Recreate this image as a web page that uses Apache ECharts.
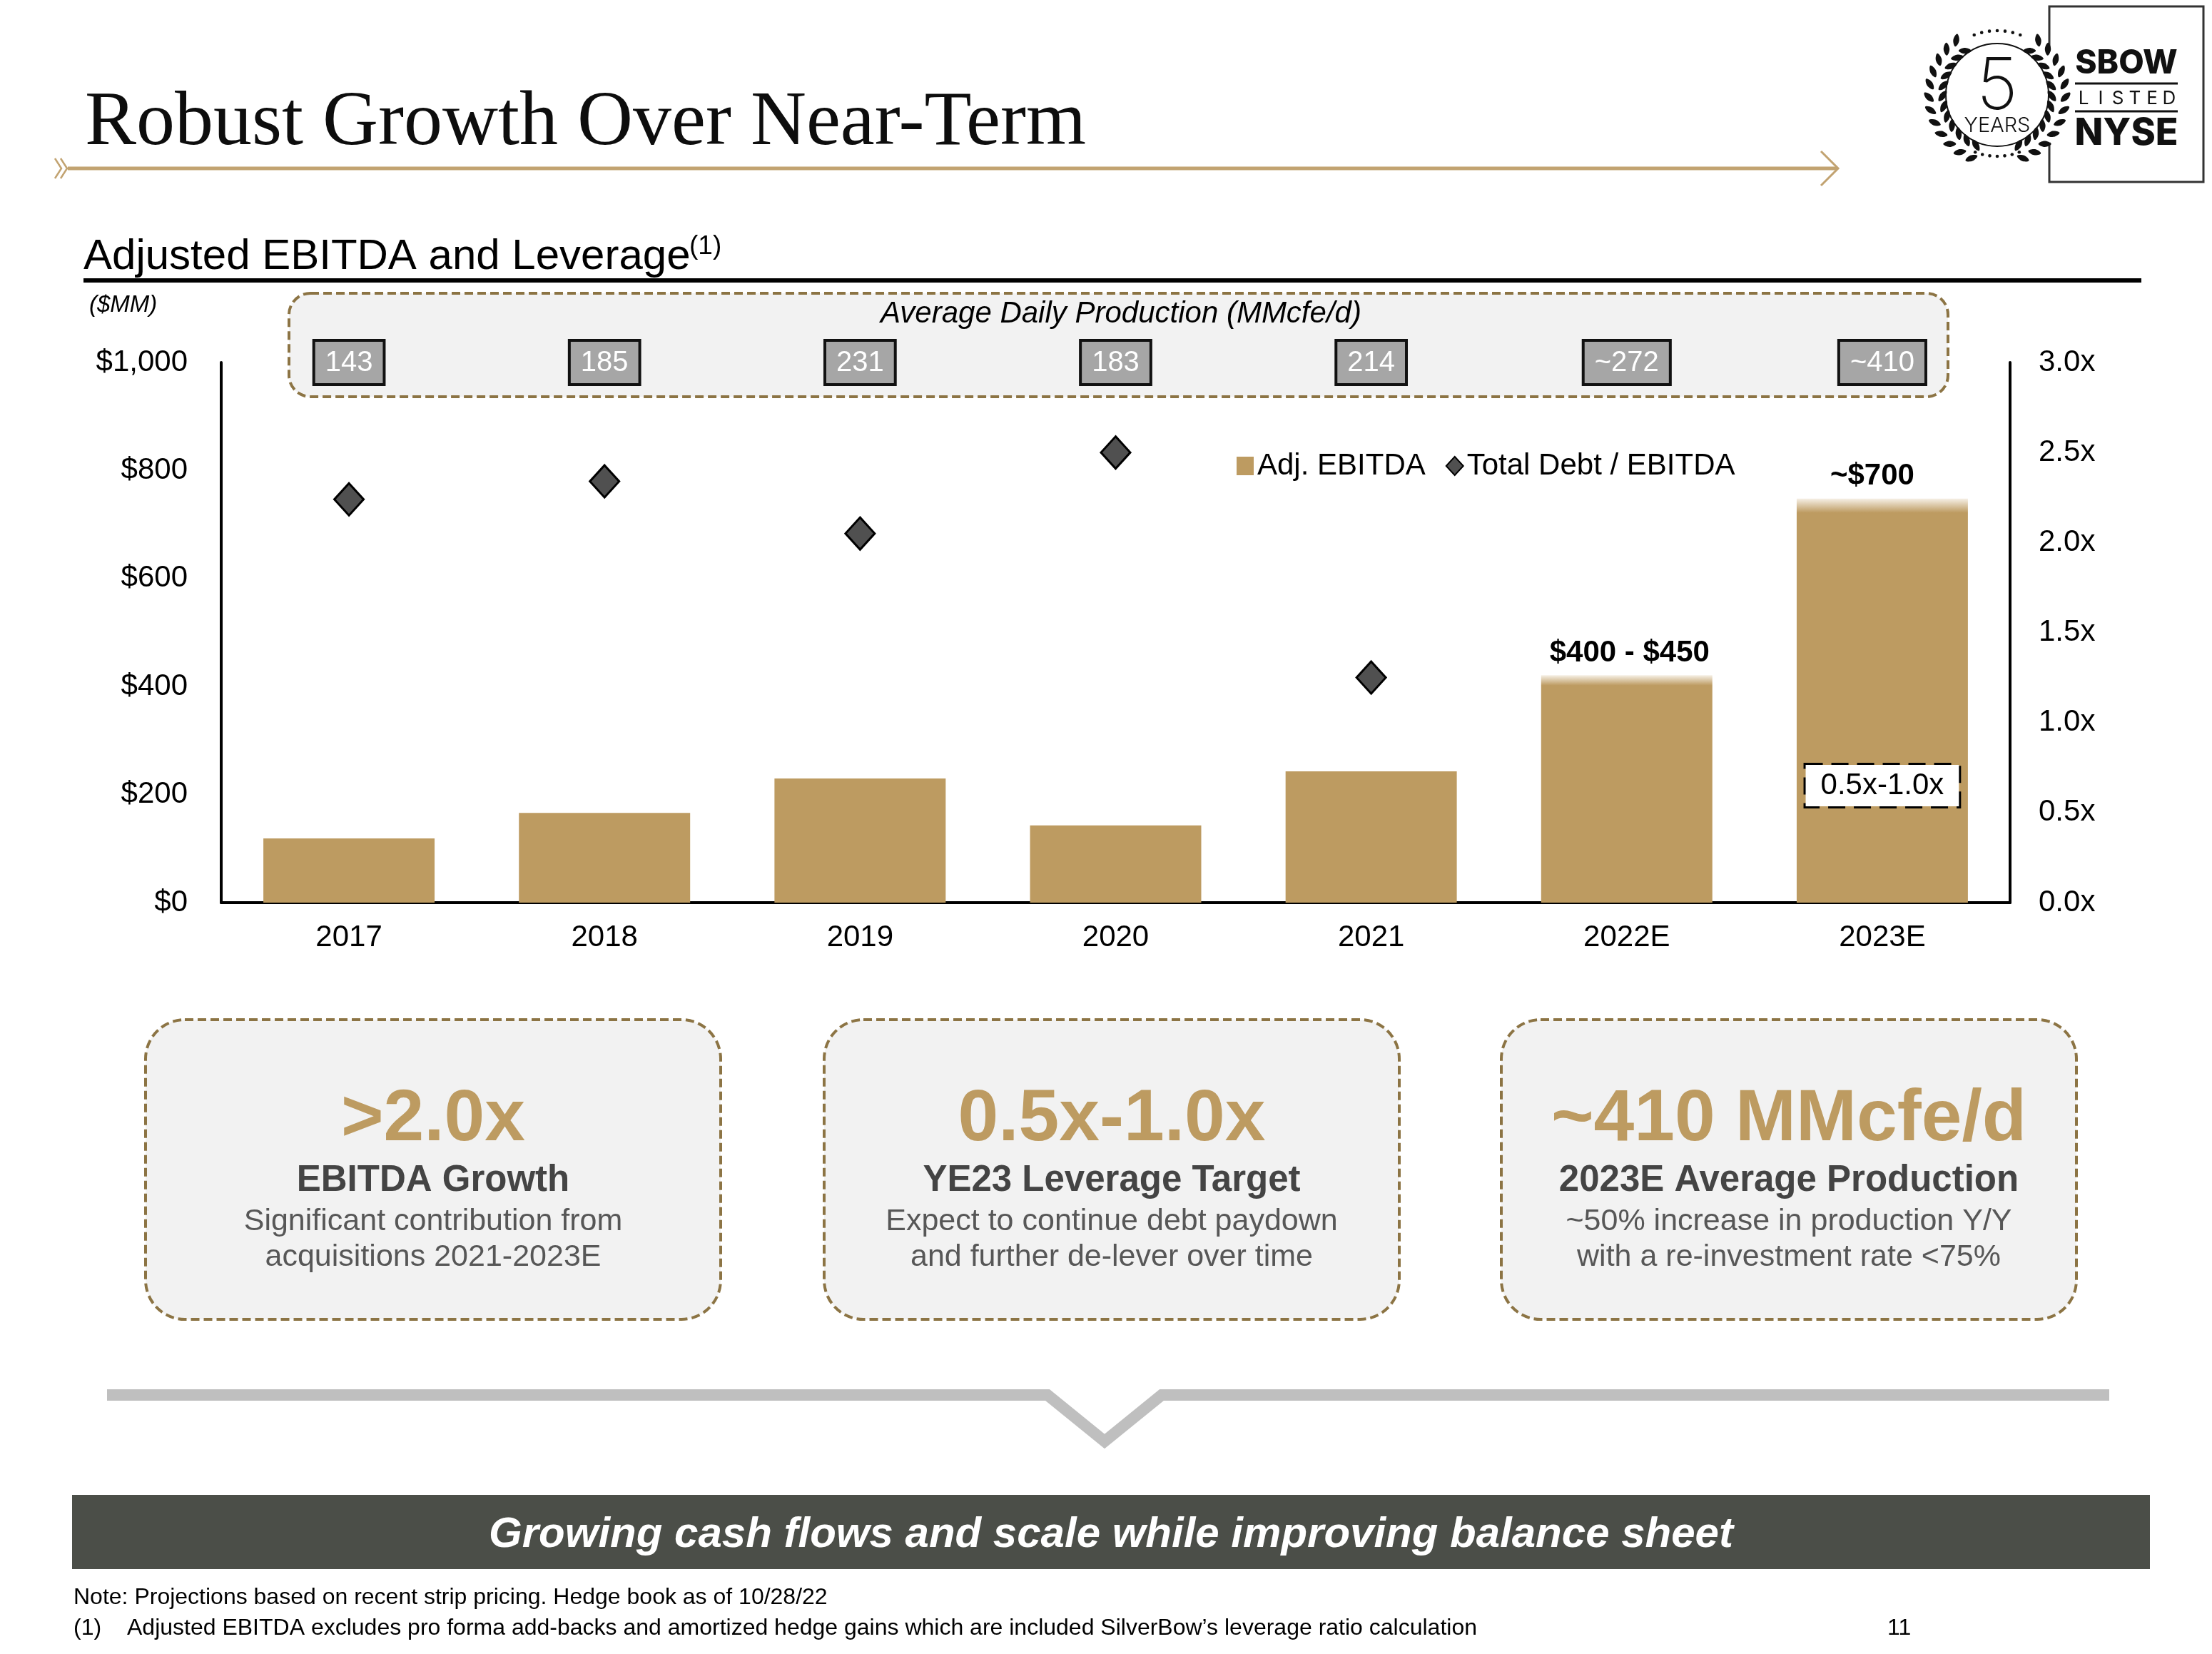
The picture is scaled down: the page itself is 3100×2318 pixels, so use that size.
<!DOCTYPE html>
<html><head><meta charset="utf-8">
<script src="https://cdn.jsdelivr.net/npm/echarts@6/dist/echarts.min.js"></script>
<style>html,body{margin:0;padding:0;background:#fff}#c{width:3100px;height:2318px}</style>
</head><body><div id="c"></div>
<script>
// ---------- data ----------
const categories = ['2017', '2018', '2019', '2020', '2021', '2022E', '2023E'];
const adjEbitda = [119, 166, 230, 143, 243, 421, 748];
const debtToEbitda = [2.24, 2.34, 2.05, 2.50, 1.25, null, null];
const avgProduction = ['143', '185', '231', '183', '214', '~272', '~410'];
const ebitdaLabels = ['', '', '', '', '', '$400 - $450', '~$700'];
const leverageTarget = [null, null, null, null, null, null, 0.65];
const leverageTargetLabel = '0.5x-1.0x';
const leftTickLabels = ['$0', '$200', '$400', '$600', '$800', '$1,000'];
const rightTickLabels = ['0.0x', '0.5x', '1.0x', '1.5x', '2.0x', '2.5x', '3.0x'];
const calloutBig = ['>2.0x', '0.5x-1.0x', '~410 MMcfe/d'];
const calloutHead = ['EBITDA Growth', 'YE23 Leverage Target', '2023E Average Production'];
const calloutDesc = [
  ['Significant contribution from', 'acquisitions 2021-2023E'],
  ['Expect to continue debt paydown', 'and further de-lever over time'],
  ['~50% increase in production Y/Y', 'with a re-investment rate <75%']
];

// ---------- style ----------
const F = '"Liberation Sans", Arial, sans-serif';
const GOLD = '#bd9b61';
const BORDER_GOLD = '#8c7444';

function txt(x, y, text, size, opts) {
  opts = opts || {};
  return {
    type: 'text', x: x, y: y, z: 10,
    style: {
      text: text, fontSize: size, fontFamily: opts.family || F,
      fontWeight: opts.weight || 'normal', fontStyle: opts.style || 'normal',
      fill: opts.fill || '#000', align: opts.align || 'left', verticalAlign: 'middle'
    }
  };
}

const g = [];
// title
g.push(txt(119, 174, 'Robust Growth Over Near-Term', 108, {family: '"Liberation Serif", "Times New Roman", serif', fill: '#0d0d0d'}));
// gold arrow line
g.push({type: 'line', shape: {x1: 95, y1: 236, x2: 2574, y2: 236}, style: {stroke: '#c2a371', lineWidth: 5}});
g.push({type: 'polyline', shape: {points: [[77, 222], [86, 236], [77, 250]]}, style: {stroke: '#c2a371', lineWidth: 2.5, fill: null}});
g.push({type: 'polyline', shape: {points: [[85, 222], [94, 236], [85, 250]]}, style: {stroke: '#c2a371', lineWidth: 2.5, fill: null}});
g.push({type: 'polyline', shape: {points: [[2552, 212], [2576, 236], [2552, 260]]}, style: {stroke: '#c2a371', lineWidth: 3, fill: null}});
// subtitle
g.push(txt(117, 360, 'Adjusted EBITDA and Leverage', 60));
g.push(txt(966, 346, '(1)', 37));
g.push({type: 'line', shape: {x1: 117, y1: 393, x2: 3001, y2: 393}, style: {stroke: '#000', lineWidth: 6}});
g.push(txt(125, 428, '($MM)', 33, {style: 'italic'}));
// production band
g.push({type: 'rect', z: 0, shape: {x: 405, y: 411, width: 2325, height: 145, r: 30},
  style: {fill: '#f2f2f2', stroke: BORDER_GOLD, lineWidth: 4, lineDash: [12, 6]}});
g.push(txt(1571, 440, 'Average Daily Production (MMcfe/d)', 42, {style: 'italic', align: 'center'}));

// callout boxes
const boxX = [204, 1155, 2104];
for (let i = 0; i < 3; i++) {
  const cx = boxX[i] + 403;
  g.push({type: 'rect', shape: {x: boxX[i], y: 1429, width: 806, height: 420, r: 55},
    style: {fill: '#f2f2f2', stroke: BORDER_GOLD, lineWidth: 4, lineDash: [12, 6]}});
  g.push(txt(cx, 1570, calloutBig[i], 102, {weight: 'bold', fill: GOLD, align: 'center'}));
  g.push(txt(cx, 1655, calloutHead[i], 51, {weight: 'bold', fill: '#444444', align: 'center'}));
  g.push(txt(cx, 1712, calloutDesc[i][0], 43, {fill: '#575757', align: 'center'}));
  g.push(txt(cx, 1762, calloutDesc[i][1], 43, {fill: '#575757', align: 'center'}));
}
// grey chevron divider
g.push({type: 'polyline', shape: {points: [[150, 1955], [1468, 1955], [1548, 2020], [1628, 1955], [2956, 1955]]},
  style: {stroke: '#bfbfbf', lineWidth: 16, fill: null, lineJoin: 'miter'}});
// banner
g.push({type: 'rect', shape: {x: 101, y: 2095, width: 2912, height: 104}, style: {fill: '#4b4e48'}});
g.push(txt(1557, 2151, 'Growing cash flows and scale while improving balance sheet', 60, {weight: 'bold', style: 'italic', fill: '#fff', align: 'center'}));
// footnotes
g.push(txt(103, 2239, 'Note: Projections based on recent strip pricing. Hedge book as of 10/28/22', 32));
g.push(txt(103, 2282, '(1)', 32));
g.push(txt(178, 2282, 'Adjusted EBITDA excludes pro forma add-backs and amortized hedge gains which are included SilverBow\u2019s leverage ratio calculation', 32));
g.push(txt(2645, 2282, '11', 32));

// logo
const LX = 2799, LY = 133;
g.push({type: 'rect', shape: {x: 2872, y: 9, width: 216, height: 246}, style: {fill: '#fff', stroke: '#333', lineWidth: 3}});
g.push({type: 'circle', shape: {cx: LX, cy: LY, r: 100}, style: {fill: '#fff'}});
g.push({type: 'circle', shape: {cx: LX, cy: LY, r: 72}, style: {fill: null, stroke: '#111', lineWidth: 2}});
g.push(txt(LX, 123, '5', 100, {family: 'Inter, "Noto Sans", sans-serif', weight: 200, fill: '#111', align: 'center'}));
g.push(txt(LX, 176, 'YEARS', 29, {family: 'Inter, "Noto Sans", sans-serif', weight: 300, fill: '#111', align: 'center'}));
for (const s of [1, -1]) {
  for (let k = 0; k < 12; k++) {
    const th = (40 + k * 11) * Math.PI / 180;
    const R = 86;
    const px = LX + s * R * Math.sin(th), py = LY - R * Math.cos(th);
    const tx = -s * Math.cos(th), ty = -Math.sin(th);
    const nx = s * Math.sin(th), ny = -Math.cos(th);
    for (const side of [1, -1]) {
      let dx = tx * 0.75 + side * nx * 0.66, dy = ty * 0.75 + side * ny * 0.66;
      const dl = Math.hypot(dx, dy); dx /= dl; dy /= dl;
      const ox = px + side * nx * 5 + dx * 7, oy = py + side * ny * 5 + dy * 7;
      const L = 9, W = 4.2, mx = -dy, my = dx;
      g.push({type: 'polygon', shape: {smooth: 0.4, points: [
        [ox + dx * L, oy + dy * L], [ox + mx * W, oy + my * W], [ox - dx * L, oy - dy * L], [ox - mx * W, oy - my * W]]},
        style: {fill: '#111'}});
    }
  }
}
for (let k = -3; k <= 3; k++) {
  const a = k * 7 * Math.PI / 180;
  g.push({type: 'circle', shape: {cx: LX + 90 * Math.sin(a), cy: LY - 90 * Math.cos(a), r: 2.3}, style: {fill: '#111'}});
  g.push({type: 'circle', shape: {cx: LX + 86 * Math.sin(a), cy: LY + 86 * Math.cos(a), r: 2.3}, style: {fill: '#111'}});
}
const LOGOF = 'Inter, "Noto Sans", sans-serif';
g.push(txt(2980, 89, 'SBOW', 46, {family: LOGOF, weight: 800, fill: '#111', align: 'center'}));
g.push({type: 'line', shape: {x1: 2908, y1: 117, x2: 3052, y2: 117}, style: {stroke: '#111', lineWidth: 3}});
'LISTED'.split('').forEach((ch, i) => {
  g.push(txt(2908 + (i + 0.5) * 24, 138, ch, 26, {family: LOGOF, weight: 400, fill: '#111', align: 'center'}));
});
g.push({type: 'line', shape: {x1: 2908, y1: 156, x2: 3052, y2: 156}, style: {stroke: '#111', lineWidth: 3}});
g.push(txt(2980, 187, 'NYSE', 52, {family: LOGOF, weight: 800, fill: '#111', align: 'center'}));

// ---------- chart ----------
function fade(frac) {
  return {type: 'linear', x: 0, y: 0, x2: 0, y2: 1, colorStops: [
    {offset: 0, color: '#f6f0e6'}, {offset: frac, color: GOLD}, {offset: 1, color: GOLD}]};
}
const barData = adjEbitda.map((v, i) => categories[i].endsWith('E')
  ? {value: v, itemStyle: {color: fade(i === 6 ? 0.035 : 0.045)}, label: {offset: i === 6 ? [-14, 0] : [4, 0]}}
  : v);

const chart = echarts.init(document.getElementById('c'), null, {renderer: 'canvas'});
chart.setOption({
  animation: false,
  backgroundColor: '#fff',
  textStyle: {fontFamily: F},
  grid: {left: 310, right: 283, top: 508, bottom: 1053, containLabel: false},
  legend: {
    left: 1728, top: 627, itemWidth: 24, itemHeight: 26, itemGap: 28,
    textStyle: {fontSize: 42, color: '#000', fontFamily: F},
    data: [{name: 'Adj. EBITDA', icon: 'rect'}, {name: 'Total Debt / EBITDA', icon: 'diamond'}]
  },
  xAxis: [
    {type: 'category', data: categories,
      axisLine: {lineStyle: {color: '#000', width: 4}}, axisTick: {show: false},
      axisLabel: {fontSize: 42, color: '#000', margin: 28, fontFamily: F}},
    {type: 'category', position: 'top', data: avgProduction,
      axisLine: {show: false}, axisTick: {show: false}, splitLine: {show: false},
      axisLabel: {interval: 0, fontSize: 40, color: '#fff', fontFamily: F, backgroundColor: '#a6a6a6',
        borderColor: '#111', borderWidth: 4, padding: [7, 14, 5, 14], lineHeight: 46, margin: -29}}
  ],
  yAxis: [
    {type: 'value', min: 0, max: 1000, interval: 200,
      axisLine: {show: true, lineStyle: {color: '#000', width: 4}}, axisTick: {show: false}, splitLine: {show: false},
      axisLabel: {fontSize: 42, color: '#000', margin: 47, fontFamily: F, formatter: v => leftTickLabels[Math.round(v / 200)]}},
    {type: 'value', min: 0, max: 3, interval: 0.5, position: 'right',
      axisLine: {show: true, lineStyle: {color: '#000', width: 4}}, axisTick: {show: false}, splitLine: {show: false},
      axisLabel: {fontSize: 42, color: '#000', margin: 40, fontFamily: F, formatter: v => rightTickLabels[Math.round(v / 0.5)]}}
  ],
  series: [
    {name: 'Adj. EBITDA', type: 'bar', data: barData, barWidth: '67%', itemStyle: {color: GOLD},
      label: {show: true, position: 'top', distance: 10, fontSize: 42, fontWeight: 'bold', color: '#000', fontFamily: F,
        formatter: p => ebitdaLabels[p.dataIndex]}},
    {name: 'Total Debt / EBITDA', type: 'scatter', yAxisIndex: 1, data: debtToEbitda, symbol: 'diamond', symbolSize: [41, 45],
      itemStyle: {color: '#505050', borderColor: '#000', borderWidth: 3, opacity: 1}},
    {name: 'target', type: 'scatter', yAxisIndex: 1, data: leverageTarget, symbolSize: 1, z: 5,
      itemStyle: {color: '#ffffff', opacity: 1},
      emphasis: {disabled: true},
      label: {show: true, position: 'inside', formatter: leverageTargetLabel, fontSize: 42, color: '#000', fontFamily: F,
        opacity: 1, backgroundColor: '#ffffff', borderColor: '#000', borderWidth: 3, borderType: 'dashed', padding: [5, 21], lineHeight: 48}}
  ],
  graphic: {elements: g}
});
</script></body></html>
